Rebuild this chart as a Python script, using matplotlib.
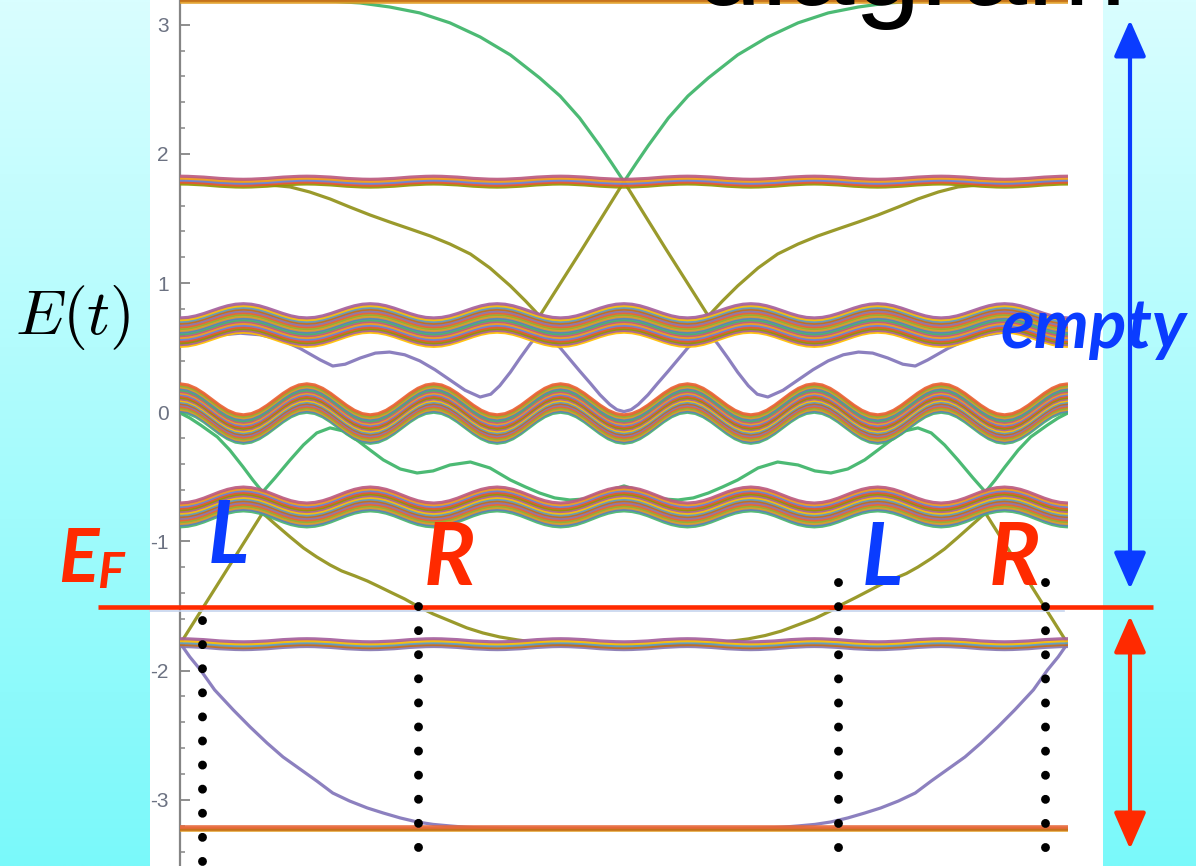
import numpy as np
import matplotlib
matplotlib.use("Agg")
import matplotlib.pyplot as plt
from matplotlib.patches import Rectangle, FancyArrowPatch, ArrowStyle
from matplotlib.ticker import MultipleLocator
from matplotlib.transforms import blended_transform_factory

plt.rcParams["axes.unicode_minus"] = False
plt.rcParams["mathtext.fontset"] = "cm"

# ---------------------------------------------------------------- data
# pumping parameter t runs over one cycle, 0 .. 1
t_grid = [k / 112 for k in range(113)]
t_flat = [0.0, 1.0]

# bulk bands: centre of each band along the cycle
band_top_E = [3.19, 3.19]
band_bottom_E = [-3.225, -3.225]
thin_upper_E = [
    1.797, 1.796, 1.793, 1.790, 1.785, 1.780, 1.777, 1.774, 1.773, 1.774, 1.777, 1.780, 1.785, 1.790, 1.793, 1.796,
    1.797, 1.796, 1.793, 1.790, 1.785, 1.780, 1.777, 1.774, 1.773, 1.774, 1.777, 1.780, 1.785, 1.790, 1.793, 1.796,
    1.797, 1.796, 1.793, 1.790, 1.785, 1.780, 1.777, 1.774, 1.773, 1.774, 1.777, 1.780, 1.785, 1.790, 1.793, 1.796,
    1.797, 1.796, 1.793, 1.790, 1.785, 1.780, 1.777, 1.774, 1.773, 1.774, 1.777, 1.780, 1.785, 1.790, 1.793, 1.796,
    1.797, 1.796, 1.793, 1.790, 1.785, 1.780, 1.777, 1.774, 1.773, 1.774, 1.777, 1.780, 1.785, 1.790, 1.793, 1.796,
    1.797, 1.796, 1.793, 1.790, 1.785, 1.780, 1.777, 1.774, 1.773, 1.774, 1.777, 1.780, 1.785, 1.790, 1.793, 1.796,
    1.797, 1.796, 1.793, 1.790, 1.785, 1.780, 1.777, 1.774, 1.773, 1.774, 1.777, 1.780, 1.785, 1.790, 1.793, 1.796,
    1.797]
band_upper_E = [
    0.620, 0.624, 0.636, 0.654, 0.675, 0.696, 0.714, 0.726, 0.730, 0.726, 0.714, 0.696, 0.675, 0.654, 0.636, 0.624,
    0.620, 0.624, 0.636, 0.654, 0.675, 0.696, 0.714, 0.726, 0.730, 0.726, 0.714, 0.696, 0.675, 0.654, 0.636, 0.624,
    0.620, 0.624, 0.636, 0.654, 0.675, 0.696, 0.714, 0.726, 0.730, 0.726, 0.714, 0.696, 0.675, 0.654, 0.636, 0.624,
    0.620, 0.624, 0.636, 0.654, 0.675, 0.696, 0.714, 0.726, 0.730, 0.726, 0.714, 0.696, 0.675, 0.654, 0.636, 0.624,
    0.620, 0.624, 0.636, 0.654, 0.675, 0.696, 0.714, 0.726, 0.730, 0.726, 0.714, 0.696, 0.675, 0.654, 0.636, 0.624,
    0.620, 0.624, 0.636, 0.654, 0.675, 0.696, 0.714, 0.726, 0.730, 0.726, 0.714, 0.696, 0.675, 0.654, 0.636, 0.624,
    0.620, 0.624, 0.636, 0.654, 0.675, 0.696, 0.714, 0.726, 0.730, 0.726, 0.714, 0.696, 0.675, 0.654, 0.636, 0.624,
    0.620]
band_mid_E = [
    0.110, 0.101, 0.075, 0.036, -0.010, -0.056, -0.095, -0.121, -0.130, -0.121, -0.095, -0.056, -0.010, 0.036, 0.075, 0.101,
    0.110, 0.101, 0.075, 0.036, -0.010, -0.056, -0.095, -0.121, -0.130, -0.121, -0.095, -0.056, -0.010, 0.036, 0.075, 0.101,
    0.110, 0.101, 0.075, 0.036, -0.010, -0.056, -0.095, -0.121, -0.130, -0.121, -0.095, -0.056, -0.010, 0.036, 0.075, 0.101,
    0.110, 0.101, 0.075, 0.036, -0.010, -0.056, -0.095, -0.121, -0.130, -0.121, -0.095, -0.056, -0.010, 0.036, 0.075, 0.101,
    0.110, 0.101, 0.075, 0.036, -0.010, -0.056, -0.095, -0.121, -0.130, -0.121, -0.095, -0.056, -0.010, 0.036, 0.075, 0.101,
    0.110, 0.101, 0.075, 0.036, -0.010, -0.056, -0.095, -0.121, -0.130, -0.121, -0.095, -0.056, -0.010, 0.036, 0.075, 0.101,
    0.110, 0.101, 0.075, 0.036, -0.010, -0.056, -0.095, -0.121, -0.130, -0.121, -0.095, -0.056, -0.010, 0.036, 0.075, 0.101,
    0.110]
band_lower_E = [
    -0.795, -0.790, -0.777, -0.757, -0.733, -0.709, -0.689, -0.676, -0.671, -0.676, -0.689, -0.709, -0.733, -0.757, -0.777, -0.790,
    -0.795, -0.790, -0.777, -0.757, -0.733, -0.709, -0.689, -0.676, -0.671, -0.676, -0.689, -0.709, -0.733, -0.757, -0.777, -0.790,
    -0.795, -0.790, -0.777, -0.757, -0.733, -0.709, -0.689, -0.676, -0.671, -0.676, -0.689, -0.709, -0.733, -0.757, -0.777, -0.790,
    -0.795, -0.790, -0.777, -0.757, -0.733, -0.709, -0.689, -0.676, -0.671, -0.676, -0.689, -0.709, -0.733, -0.757, -0.777, -0.790,
    -0.795, -0.790, -0.777, -0.757, -0.733, -0.709, -0.689, -0.676, -0.671, -0.676, -0.689, -0.709, -0.733, -0.757, -0.777, -0.790,
    -0.795, -0.790, -0.777, -0.757, -0.733, -0.709, -0.689, -0.676, -0.671, -0.676, -0.689, -0.709, -0.733, -0.757, -0.777, -0.790,
    -0.795, -0.790, -0.777, -0.757, -0.733, -0.709, -0.689, -0.676, -0.671, -0.676, -0.689, -0.709, -0.733, -0.757, -0.777, -0.790,
    -0.795]
thin_lower_E = [
    -1.783, -1.784, -1.787, -1.790, -1.795, -1.800, -1.803, -1.806, -1.807, -1.806, -1.803, -1.800, -1.795, -1.790, -1.787, -1.784,
    -1.783, -1.784, -1.787, -1.790, -1.795, -1.800, -1.803, -1.806, -1.807, -1.806, -1.803, -1.800, -1.795, -1.790, -1.787, -1.784,
    -1.783, -1.784, -1.787, -1.790, -1.795, -1.800, -1.803, -1.806, -1.807, -1.806, -1.803, -1.800, -1.795, -1.790, -1.787, -1.784,
    -1.783, -1.784, -1.787, -1.790, -1.795, -1.800, -1.803, -1.806, -1.807, -1.806, -1.803, -1.800, -1.795, -1.790, -1.787, -1.784,
    -1.783, -1.784, -1.787, -1.790, -1.795, -1.800, -1.803, -1.806, -1.807, -1.806, -1.803, -1.800, -1.795, -1.790, -1.787, -1.784,
    -1.783, -1.784, -1.787, -1.790, -1.795, -1.800, -1.803, -1.806, -1.807, -1.806, -1.803, -1.800, -1.795, -1.790, -1.787, -1.784,
    -1.783, -1.784, -1.787, -1.790, -1.795, -1.800, -1.803, -1.806, -1.807, -1.806, -1.803, -1.800, -1.795, -1.790, -1.787, -1.784,
    -1.783]

# half widths of the bands (spread of the many sub-levels)
halfwidth_flat = 0.012
halfwidth_thin = 0.03
halfwidth_upper = 0.11
halfwidth_mid = 0.11
halfwidth_lower = 0.092

# in-gap (edge) states
green_upper_t = [0.000, 0.135, 0.169, 0.203, 0.236, 0.270, 0.304, 0.338, 0.372, 0.405,
                 0.428, 0.450, 0.473, 0.486, 0.500, 0.514, 0.527, 0.550, 0.572, 0.595,
                 0.628, 0.662, 0.696, 0.730, 0.764, 0.797, 0.831, 0.865, 1.000]
green_upper_E = [3.190, 3.190, 3.183, 3.168, 3.137, 3.091, 3.014, 2.905, 2.766, 2.588,
                 2.448, 2.278, 2.061, 1.930, 1.785, 1.930, 2.061, 2.278, 2.448, 2.588,
                 2.766, 2.905, 3.014, 3.091, 3.137, 3.168, 3.183, 3.190, 3.190]

olive_upper_t = [0.000, 0.068, 0.101, 0.124, 0.146, 0.169, 0.191, 0.214, 0.236, 0.259,
                 0.282, 0.304, 0.327, 0.349, 0.372, 0.389, 0.405, 0.453, 0.500, 0.547,
                 0.595, 0.611, 0.628, 0.651, 0.673, 0.696, 0.718, 0.741, 0.764, 0.786,
                 0.809, 0.831, 0.854, 0.876, 0.899, 0.932, 1.000]
olive_upper_E = [1.781, 1.775, 1.759, 1.744, 1.705, 1.651, 1.589, 1.527, 1.473, 1.419,
                 1.364, 1.302, 1.225, 1.117, 0.978, 0.862, 0.745, 1.265, 1.785, 1.265,
                 0.745, 0.862, 0.978, 1.117, 1.225, 1.302, 1.364, 1.419, 1.473, 1.527,
                 1.589, 1.651, 1.705, 1.744, 1.759, 1.775, 1.781]

purple_upper_t = [0.000, 0.023, 0.045, 0.068, 0.090, 0.113, 0.135, 0.158, 0.172, 0.186,
                  0.203, 0.220, 0.236, 0.253, 0.270, 0.287, 0.304, 0.321, 0.338, 0.350,
                  0.360, 0.372, 0.383, 0.394, 0.405, 0.416, 0.428, 0.439, 0.450, 0.462,
                  0.473, 0.484, 0.492, 0.500, 0.508, 0.516, 0.527, 0.538, 0.550, 0.561,
                  0.572, 0.584, 0.595, 0.606, 0.617, 0.628, 0.640, 0.650, 0.662, 0.679,
                  0.696, 0.713, 0.730, 0.747, 0.764, 0.780, 0.797, 0.814, 0.828, 0.842,
                  0.865, 0.887, 0.910, 0.932, 0.955, 0.977, 1.000]
purple_upper_E = [0.530, 0.568, 0.598, 0.612, 0.600, 0.563, 0.495, 0.405, 0.358, 0.372,
                  0.420, 0.458, 0.466, 0.445, 0.398, 0.330, 0.250, 0.170, 0.118, 0.140,
                  0.205, 0.310, 0.420, 0.525, 0.622, 0.580, 0.500, 0.410, 0.320, 0.225,
                  0.135, 0.060, 0.020, 0.005, 0.020, 0.060, 0.135, 0.225, 0.320, 0.410,
                  0.500, 0.580, 0.622, 0.525, 0.420, 0.310, 0.205, 0.140, 0.118, 0.170,
                  0.250, 0.330, 0.398, 0.445, 0.466, 0.458, 0.420, 0.372, 0.358, 0.405,
                  0.495, 0.563, 0.600, 0.625, 0.630, 0.605, 0.580]

green_lower_t = [0.000, 0.011, 0.023, 0.042, 0.056, 0.071, 0.082, 0.093, 0.107, 0.124,
                 0.139, 0.154, 0.169, 0.184, 0.199, 0.214, 0.229, 0.248, 0.267, 0.285,
                 0.304, 0.327, 0.349, 0.372, 0.389, 0.405, 0.422, 0.439, 0.456, 0.473,
                 0.486, 0.500, 0.514, 0.527, 0.544, 0.561, 0.578, 0.595, 0.611, 0.628,
                 0.651, 0.673, 0.696, 0.715, 0.733, 0.752, 0.771, 0.786, 0.801, 0.816,
                 0.831, 0.846, 0.861, 0.876, 0.893, 0.907, 0.918, 0.929, 0.944, 0.958,
                 0.977, 0.989, 1.000]
green_lower_E = [-0.005, -0.044, -0.098, -0.191, -0.292, -0.423, -0.524, -0.617, -0.508, -0.369,
                 -0.253, -0.160, -0.121, -0.145, -0.214, -0.292, -0.369, -0.439, -0.470, -0.454,
                 -0.408, -0.385, -0.431, -0.524, -0.578, -0.625, -0.663, -0.679, -0.671, -0.632,
                 -0.601, -0.570, -0.601, -0.632, -0.671, -0.679, -0.663, -0.625, -0.578, -0.524,
                 -0.431, -0.385, -0.408, -0.454, -0.470, -0.439, -0.369, -0.292, -0.214, -0.145,
                 -0.121, -0.160, -0.253, -0.369, -0.508, -0.617, -0.524, -0.423, -0.292, -0.191,
                 -0.098, -0.044, -0.005]

olive_lower_t = [0.000, 0.093, 0.107, 0.124, 0.139, 0.154, 0.169, 0.182, 0.197, 0.211,
                 0.225, 0.239, 0.253, 0.267, 0.285, 0.304, 0.323, 0.341, 0.360, 0.380,
                 0.405, 0.428, 0.462, 0.500, 0.538, 0.572, 0.595, 0.620, 0.640, 0.659,
                 0.677, 0.696, 0.715, 0.733, 0.747, 0.761, 0.775, 0.789, 0.803, 0.818,
                 0.831, 0.846, 0.861, 0.876, 0.893, 0.907, 1.000]
olive_lower_E = [-1.795, -0.780, -0.865, -0.965, -1.050, -1.120, -1.182, -1.228, -1.267, -1.306,
                 -1.352, -1.399, -1.445, -1.499, -1.561, -1.615, -1.669, -1.708, -1.739, -1.762,
                 -1.785, -1.801, -1.809, -1.809, -1.809, -1.801, -1.790, -1.772, -1.754, -1.728,
                 -1.694, -1.645, -1.596, -1.536, -1.482, -1.434, -1.384, -1.334, -1.291, -1.248,
                 -1.198, -1.132, -1.058, -0.969, -0.865, -0.780, -1.795]

purple_lower_t = [0.000, 0.011, 0.023, 0.039, 0.060, 0.079, 0.098, 0.116, 0.135, 0.154,
                  0.172, 0.191, 0.211, 0.229, 0.248, 0.267, 0.285, 0.304, 0.322, 0.341,
                  0.383, 0.500, 0.617, 0.659, 0.678, 0.696, 0.715, 0.733, 0.752, 0.771,
                  0.789, 0.809, 0.828, 0.846, 0.865, 0.884, 0.902, 0.921, 0.940, 0.961,
                  0.977, 0.989, 1.000]
purple_lower_E = [-1.785, -1.893, -1.994, -2.149, -2.304, -2.436, -2.560, -2.668, -2.761, -2.854,
                  -2.947, -3.009, -3.063, -3.102, -3.140, -3.171, -3.190, -3.202, -3.212, -3.218,
                  -3.225, -3.225, -3.225, -3.218, -3.212, -3.202, -3.190, -3.171, -3.140, -3.102,
                  -3.063, -3.009, -2.947, -2.854, -2.761, -2.668, -2.560, -2.436, -2.304, -2.149,
                  -1.994, -1.893, -1.785]

# Fermi level and the four Fermi-level crossings (L, R, L, R)
E_F = -1.505
crossing_t = [0.025, 0.268, 0.741, 0.974]
crossing_top_E = [-1.608, -1.499, -1.311, -1.311]

y_ticks = [-3, -2, -1, 0, 1, 2, 3]

# ---------------------------------------------------------------- styling
W, H = 1196, 866
pal = ["#5E81B5", "#E19C24", "#8FB032", "#EB6235", "#8778B3", "#C56E1A",
       "#5D9EC7", "#FFBF00", "#A5609D", "#929600", "#E95536", "#6685D9",
       "#F89F13", "#BC5B80", "#47B66D"]
RED = "#ff2a00"
BLUE = "#0a3cff"
GREEN = "#4cba74"
OLIVE = "#9a9a2c"
PURPLE = "#8c80bf"

fig = plt.figure(figsize=(W / 100, H / 100), dpi=100)

top_rgb = np.array([217, 254, 255]) / 255
bot_rgb = np.array([122, 249, 250]) / 255
frac = np.linspace(0, 1, 256)[:, None, None]
grad = top_rgb * (1 - frac) + bot_rgb * frac

# slide background with the white panel
ax_bg = fig.add_axes([0, 0, 1, 1], zorder=0)
ax_bg.imshow(grad, extent=(0, W, H, 0), aspect="auto", interpolation="bilinear")
ax_bg.add_patch(Rectangle((150, 0), 953, H, facecolor="white", edgecolor="none"))
ax_bg.set_xlim(0, W)
ax_bg.set_ylim(H, 0)
ax_bg.axis("off")

# spectrum axes
ax = fig.add_axes([180 / W, 0, 888 / W, 1], zorder=2)
ax.set_facecolor("none")
ax.set_xlim(0, 1)
ax.set_ylim(-3.512, 3.191)
for s in ("top", "right", "bottom"):
    ax.spines[s].set_visible(False)
ax.spines["left"].set_color("#858585")
ax.spines["left"].set_linewidth(1.6)
ax.xaxis.set_visible(False)
ax.set_yticks(y_ticks)
ax.set_yticklabels([str(v) for v in y_ticks])
ax.yaxis.set_minor_locator(MultipleLocator(0.2))
ax.tick_params(axis="y", which="major", direction="in", length=7.2, width=1.3,
               color="#858585", labelsize=15, labelcolor="#6c7282", pad=8)
ax.tick_params(axis="y", which="minor", direction="in", length=3.6, width=1.1,
               color="#858585")
for lab in ax.get_yticklabels():
    lab.set_fontfamily("Liberation Sans")

lw_line = 2.3

# edge states (underneath the bulk bands)
ax.plot(green_upper_t, green_upper_E, color=GREEN, lw=lw_line, zorder=2)
ax.plot(olive_upper_t, olive_upper_E, color=OLIVE, lw=lw_line, zorder=2)
ax.plot(purple_upper_t, purple_upper_E, color=PURPLE, lw=lw_line, zorder=2)
ax.plot(green_lower_t, green_lower_E, color=GREEN, lw=lw_line, zorder=2)
ax.plot(olive_lower_t, olive_lower_E, color=OLIVE, lw=lw_line, zorder=2)
ax.plot(purple_lower_t, purple_lower_E, color=PURPLE, lw=lw_line, zorder=2)


def draw_band(t, centre, half, colours, lw=lw_line):
    t = np.asarray(t)
    c = np.asarray(centre)
    for off, col in zip(np.linspace(-half, half, len(colours)), colours):
        ax.plot(t, c + off, color=col, lw=lw, alpha=0.92,
                solid_capstyle="butt", zorder=3)


def cycle(start, n):
    return [pal[(start + i) % len(pal)] for i in range(n)]


draw_band(t_flat, band_top_E, halfwidth_flat, ["#E19C24", "#C56E1A", "#D27A36"], lw=2.6)
draw_band(t_grid, thin_upper_E, halfwidth_thin, cycle(9, 5))
draw_band(t_grid, band_upper_E, halfwidth_upper, cycle(7, 17))
draw_band(t_grid, band_mid_E, halfwidth_mid, cycle(14, 20))
draw_band(t_grid, band_lower_E, halfwidth_lower, cycle(14, 15))
draw_band(t_grid, thin_lower_E, halfwidth_thin, cycle(4, 5))
draw_band(t_flat, band_bottom_E, halfwidth_flat, ["#E19C24", "#C56E1A", "#E8683A"], lw=2.6)

# overlay: slide margins, annotations
ax_ov = fig.add_axes([0, 0, 1, 1], zorder=3)
ax_ov.set_facecolor("none")
ax_ov.imshow(grad, extent=(0, 150, H, 0), aspect="auto", interpolation="bilinear", zorder=0)
ax_ov.imshow(grad, extent=(1103, W, H, 0), aspect="auto", interpolation="bilinear", zorder=0)
ax_ov.set_xlim(0, W)
ax_ov.set_ylim(H, 0)
ax_ov.axis("off")

# slide title running off the top edge
ax_ov.text(695, 5, "diagram", fontsize=86, family="Liberation Sans",
           color="black", va="baseline", ha="left", zorder=4)

# Fermi level
trans_ef = blended_transform_factory(ax_ov.transData, ax.transData)
ax_ov.plot([150, 1064], [611, 611], color="#c6d4ee", lw=1.2, zorder=4)
ax_ov.plot([98, 1153], [E_F, E_F], transform=trans_ef, color=RED, lw=3.3,
           solid_capstyle="butt", zorder=5)

# dotted drop lines from the Fermi-level crossings
for tc, et in zip(crossing_t, crossing_top_E):
    ax_ov.plot([tc, tc], [et, -3.6], transform=ax.transData, color="black",
               lw=6.4, linestyle=(0, (0.01, 2.7)), dash_capstyle="round",
               clip_on=False, zorder=7)

# occupied / empty arrows
style = ArrowStyle("<|-|>", head_length=1.25, head_width=0.55)
for y0, y1, col in ((20, 589, BLUE), (616, 849, RED)):
    ax_ov.add_patch(FancyArrowPatch((1130, y0), (1130, y1), arrowstyle=style,
                                    mutation_scale=18, lw=3.0, color=col,
                                    shrinkA=0, shrinkB=0, zorder=6))

lab = dict(family="Lato", style="italic", weight="bold", va="baseline", ha="left", zorder=8)
ax_ov.text(1001, 348, "empty", fontsize=50, color=BLUE, **lab)
ax_ov.text(208, 563, "L", fontsize=62, color=BLUE, **lab)
ax_ov.text(424, 585, "R", fontsize=62, color=RED, **lab)
ax_ov.text(862, 585, "L", fontsize=62, color=BLUE, **lab)
ax_ov.text(989, 585, "R", fontsize=62, color=RED, **lab)
ax_ov.text(58, 582, "E", fontsize=54, color=RED, **lab)
ax_ov.text(97, 588, "F", fontsize=36, color=RED, **lab)

ax_ov.text(15, 334, r"$E(t)$", fontsize=46, color="black", va="baseline",
           ha="left", zorder=8)

fig.savefig("out.png", dpi=100)
